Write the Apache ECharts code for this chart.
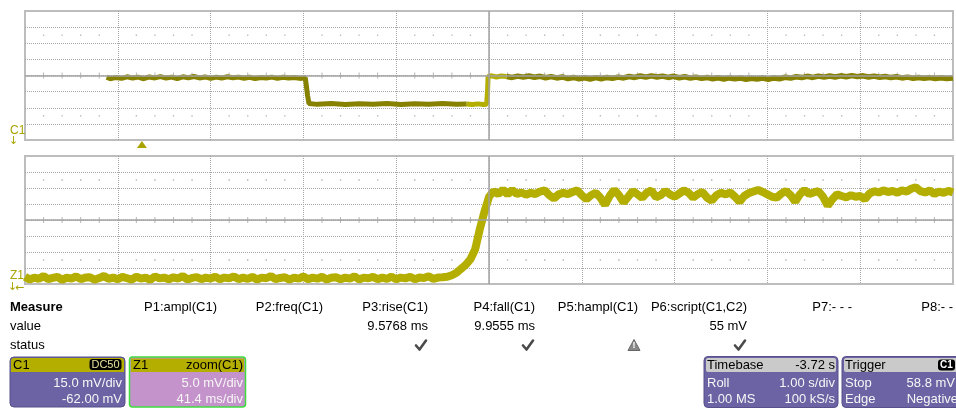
<!DOCTYPE html>
<html><head><meta charset="utf-8">
<script src="https://cdn.jsdelivr.net/npm/echarts@6/dist/echarts.min.js"></script>
<style>html,body{margin:0;padding:0;background:#fff;overflow:hidden}#c{width:956px;height:408px}</style>
</head><body><div id="c"></div>
<script>
// ---------- DATA (x in divisions 0..10, y in divisions -4..4) ----------
const c1Before = [[0.88,-0.10],[0.92,-0.20],[0.98,-0.12],[1.04,-0.18],[1.10,-0.08],[1.16,-0.16],[1.22,-0.10],[1.28,-0.20],[1.34,-0.09],[1.40,-0.15],[1.46,-0.07],[1.52,-0.16],[1.58,-0.10],[1.64,-0.19],[1.70,-0.08],[1.76,-0.14],[1.82,-0.06],[1.88,-0.15],[1.94,-0.09],[2.00,-0.18],[2.06,-0.10],[2.12,-0.16],[2.18,-0.08],[2.24,-0.14],[2.30,-0.10],[2.36,-0.17],[2.42,-0.11],[2.48,-0.19],[2.54,-0.12],[2.60,-0.16],[2.66,-0.10],[2.72,-0.18],[2.78,-0.11],[2.84,-0.16],[2.90,-0.12],[2.96,-0.18],[3.02,-0.14],[3.03,-0.55],[3.045,-1.25],[3.06,-1.74],[3.15,-1.79],[3.30,-1.74],[3.45,-1.80],[3.60,-1.75],[3.75,-1.79],[3.90,-1.74],[4.05,-1.80],[4.20,-1.75],[4.35,-1.79],[4.50,-1.74],[4.65,-1.79],[4.76,-1.77]];
const c1Zoomed = [[4.76,-1.77],[4.82,-1.80],[4.88,-1.76],[4.94,-1.80],[4.975,-1.78],[4.985,-0.9],[4.99,-0.06],[5.03,-0.02],[5.08,-0.09],[5.13,-0.03],[5.19,-0.06]];
const c1After = [[5.19,-0.06],[5.25,-0.12],[5.31,-0.04],[5.37,-0.10],[5.43,-0.03],[5.49,-0.11],[5.55,-0.05],[5.61,-0.14],[5.67,-0.07],[5.73,-0.15],[5.79,-0.09],[5.85,-0.19],[5.91,-0.12],[5.97,-0.20],[6.03,-0.14],[6.09,-0.22],[6.15,-0.13],[6.21,-0.20],[6.27,-0.12],[6.33,-0.18],[6.39,-0.10],[6.45,-0.15],[6.51,-0.06],[6.57,-0.12],[6.63,-0.03],[6.69,-0.10],[6.75,-0.02],[6.81,-0.09],[6.87,-0.04],[6.93,-0.12],[6.99,-0.05],[7.05,-0.14],[7.11,-0.08],[7.17,-0.16],[7.23,-0.10],[7.29,-0.18],[7.35,-0.12],[7.41,-0.20],[7.47,-0.14],[7.53,-0.22],[7.59,-0.15],[7.65,-0.21],[7.71,-0.16],[7.77,-0.23],[7.83,-0.17],[7.89,-0.22],[7.95,-0.16],[8.01,-0.24],[8.07,-0.15],[8.13,-0.20],[8.19,-0.11],[8.25,-0.16],[8.31,-0.08],[8.37,-0.13],[8.43,-0.05],[8.49,-0.12],[8.55,-0.04],[8.61,-0.10],[8.67,-0.03],[8.73,-0.09],[8.79,-0.02],[8.85,-0.08],[8.91,-0.01],[8.97,-0.07],[9.03,-0.02],[9.09,-0.09],[9.15,-0.04],[9.21,-0.11],[9.27,-0.06],[9.33,-0.13],[9.39,-0.08],[9.45,-0.15],[9.51,-0.10],[9.57,-0.17],[9.63,-0.12],[9.69,-0.18],[9.75,-0.13],[9.81,-0.19],[9.87,-0.14],[9.93,-0.18],[10.0,-0.15]];

const z1Start = 0, z1Step = 0.05;   // sample clock of the zoom trace (divisions)
const z1Volts = [
-3.55,-3.72,-3.60,-3.68,-3.50,-3.70,-3.62,-3.55,-3.74,-3.60,
-3.66,-3.52,-3.70,-3.60,-3.58,-3.73,-3.63,-3.50,-3.68,-3.60,
-3.70,-3.56,-3.64,-3.72,-3.55,-3.66,-3.60,-3.74,-3.52,-3.65,
-3.60,-3.70,-3.58,-3.66,-3.50,-3.72,-3.62,-3.57,-3.70,-3.60,
-3.66,-3.54,-3.71,-3.60,-3.65,-3.52,-3.70,-3.60,-3.68,-3.55,
-3.72,-3.60,-3.64,-3.50,-3.70,-3.62,-3.58,-3.73,-3.60,-3.66,
-3.53,-3.70,-3.60,-3.67,-3.55,-3.72,-3.61,-3.58,-3.70,-3.60,
-3.66,-3.52,-3.72,-3.60,-3.64,-3.56,-3.70,-3.60,-3.68,-3.54,
-3.71,-3.60,-3.65,-3.55,-3.70,-3.60,-3.62,-3.52,-3.68,-3.60,
-3.58,-3.55,-3.45,-3.30,-3.05,-2.80,-2.45,-1.85,-0.60,0.50,
1.45,1.80,1.62,1.90,1.60,1.88,1.62,1.72,1.58,1.70,
1.62,1.78,1.85,1.55,1.35,1.60,1.70,1.62,1.75,1.85,
1.55,1.30,1.55,1.70,1.40,0.95,1.50,1.88,1.55,1.10,
1.45,1.82,1.60,1.38,1.70,1.85,1.42,1.55,1.82,1.60,
1.45,1.65,1.85,1.70,1.40,1.62,1.75,1.40,1.20,1.55,
1.70,1.60,1.72,1.45,1.15,1.50,1.68,1.78,1.88,1.75,
1.60,1.45,1.40,1.65,1.82,1.55,1.15,1.60,1.88,1.62,
1.72,1.80,1.45,0.90,1.30,1.60,1.50,1.42,1.55,1.45,
1.50,1.30,1.65,1.80,1.72,1.85,1.75,1.82,1.70,1.86,
1.78,1.95,2.05,1.80,1.72,1.85,1.62,1.78,1.70,1.82,
1.72];
const triggerMarkerDiv = 1.26;

const measureHeaders = ['P1:ampl(C1)','P2:freq(C1)','P3:rise(C1)','P4:fall(C1)','P5:hampl(C1)','P6:script(C1,C2)','P7:- - -','P8:- - -'];
const measureValues  = ['','','9.5768 ms','9.9555 ms','','55 mV','',''];
const measureStatus  = ['','','ok','ok','warn','ok','',''];
const rowLabels = ['Measure','value','status'];

// ---------- LAYOUT ----------
const colRight = [217,323,428,535,638,747,852,961];
const FONT = '"Liberation Sans", Arial, sans-serif';
const gridLine = '#a8a8a8', frameCol = '#bdbdbd', centerCol = '#a2a2a2';
const olive = '#878100', bright = '#b3ae00';

function subPositions(){ const a=[]; for(let i=1;i<50;i++){ if(i%5) a.push(i/5); } return a; }
const subs = subPositions();

function axisPair(gi){
  return {
    x:{type:'value',gridIndex:gi,min:0,max:10,interval:1,axisLine:{show:false},axisTick:{show:false},axisLabel:{show:false},
       splitLine:{show:true,showMinLine:false,showMaxLine:false,lineStyle:{color:gridLine,type:[1,1],width:1}}},
    y:{type:'value',gridIndex:gi,min:-4,max:4,interval:1,axisLine:{show:false},axisTick:{show:false},axisLabel:{show:false},
       splitLine:{show:true,showMinLine:false,showMaxLine:false,lineStyle:{color:gridLine,type:[1,1],width:1}}}
  };
}
const a0 = axisPair(0), a1 = axisPair(1);

function decoSeries(gi){
  return [
    {type:'scatter',xAxisIndex:gi,yAxisIndex:gi,silent:true,z:1,symbol:'rect',symbolSize:[1,6],
     itemStyle:{color:centerCol},data:subs.map(x=>[x,0]),
     markLine:{silent:true,symbol:'none',label:{show:false},lineStyle:{color:centerCol,type:'solid',width:1.5},
       data:[{yAxis:0},{xAxis:5}]}},
    {type:'scatter',xAxisIndex:gi,yAxisIndex:gi,silent:true,z:1,symbol:'rect',symbolSize:[1.3,1.3],
     itemStyle:{color:'#999'},data:subs.flatMap(x=>[[x,2.5],[x,-2.5]])}
  ];
}

const z1Data = z1Volts.map((v,i)=>[z1Start+i*z1Step, v]);

const chart = echarts.init(document.getElementById('c'),null,{renderer:'canvas'});
const option = {
  animation:false,
  backgroundColor:'#fff',
  grid:[
    {left:25,top:11,width:928,height:129,show:true,borderColor:frameCol,borderWidth:2,backgroundColor:'transparent'},
    {left:25,top:156,width:928,height:128,show:true,borderColor:frameCol,borderWidth:2,backgroundColor:'transparent'}
  ],
  xAxis:[a0.x,a1.x],
  yAxis:[a0.y,a1.y],
  series:[
    ...decoSeries(0),...decoSeries(1),
    {type:'line',xAxisIndex:0,yAxisIndex:0,data:c1Before,showSymbol:false,z:3,lineStyle:{color:olive,width:5},itemStyle:{color:olive}},
    {type:'line',xAxisIndex:0,yAxisIndex:0,data:c1After,showSymbol:false,z:3,lineStyle:{color:olive,width:5.5},itemStyle:{color:olive}},
    {type:'line',xAxisIndex:0,yAxisIndex:0,data:c1Zoomed,showSymbol:false,z:4,lineStyle:{color:bright,width:5},itemStyle:{color:bright}},
    {type:'line',xAxisIndex:1,yAxisIndex:1,data:z1Data,showSymbol:false,z:3,clip:true,lineStyle:{color:bright,width:8,join:'bevel'},itemStyle:{color:bright}}
  ]
};
chart.setOption(option);

// ---------- TEXT & PANELS ----------
function txt(x,y,text,opt){
  opt=opt||{};
  return {type:'text',x:x,y:y,silent:true,z:opt.z||10,style:{text:text,fill:opt.fill||'#000',
    font:(opt.weight||'normal')+' '+(opt.size||13)+'px '+(opt.family||FONT),
    textAlign:opt.align||'left',textVerticalAlign:'middle'}};
}
function rect(x,y,w,h,fill,opt){
  opt=opt||{};
  return {type:'rect',silent:true,z:opt.z||5,shape:{x:x,y:y,width:w,height:h,r:opt.r||0},
    style:{fill:fill,stroke:opt.stroke||null,lineWidth:opt.lw||0}};
}
const G = [];
// channel labels
const lab = '#a9a400';
G.push(txt(10,131,'C1',{fill:lab,size:12}));
G.push(txt(9,141,'↓',{fill:lab,size:11,family:'"DejaVu Sans"'}));
G.push(txt(10,276,'Z1',{fill:lab,size:12}));
G.push(txt(8,287,'↓',{fill:lab,size:11,family:'"DejaVu Sans"'}));
G.push(txt(15,288,'←',{fill:lab,size:11,family:'"DejaVu Sans"'}));
// trigger marker
const tx = chart.convertToPixel({xAxisIndex:0},triggerMarkerDiv);
G.push({type:'polygon',silent:true,z:6,shape:{points:[[tx-5,148],[tx+5,148],[tx,141]]},style:{fill:'#a9a400'}});

// measure table
const ry=[307.5,326.5,345.5];
G.push(txt(10,ry[0],rowLabels[0],{weight:'bold'}));
G.push(txt(10,ry[1],rowLabels[1]));
G.push(txt(10,ry[2],rowLabels[2]));
measureHeaders.forEach((h,i)=>{
  G.push(txt(colRight[i],ry[0],h,{align:'right'}));
  if(measureValues[i]) G.push(txt(colRight[i],ry[1],measureValues[i],{align:'right'}));
  if(measureStatus[i]==='ok'){
    const cx=colRight[i]-7, cy=ry[2];
    G.push({type:'polyline',silent:true,z:9,shape:{points:[[cx-5,cy],[cx-1.5,cy+4],[cx+5,cy-5]]},
      style:{stroke:'#4a4a4a',lineWidth:2.6,fill:null,lineCap:'round',lineJoin:'round'}});
  }
  if(measureStatus[i]==='warn'){
    const cx=colRight[i]-4;
    G.push({type:'polygon',silent:true,z:9,shape:{points:[[cx-6,ry[2]+5],[cx+6,ry[2]+5],[cx,ry[2]-6]]},style:{fill:'#8a8a8a',stroke:'#666',lineWidth:1,lineJoin:'round'}});
    G.push(txt(cx,ry[2]+0.5,'!',{align:'center',fill:'#fff',size:9,weight:'bold'}));
  }
});

// boxes
const purple='#6b63a3', pink='#c593cb', white='#f6f6f6', hdrGray='#cacaca';
// C1
G.push(rect(10,357,115,50,purple,{r:4,stroke:'#57508c',lw:1}));
G.push(rect(11,358,113,14,bright,{r:[3,3,0,0],z:6}));
G.push(txt(13,365,'C1',{z:11}));
G.push(rect(89.5,359,32,11,'#000',{r:3,z:7}));
G.push(txt(105.5,364.7,'DC50',{align:'center',fill:'#e6e29a',size:11,z:11}));
G.push(txt(122,383.5,'15.0 mV/div',{align:'right',fill:white}));
G.push(txt(122,399,'-62.00 mV',{align:'right',fill:white}));
// Z1
G.push(rect(129.5,357,116,50,pink,{r:3,stroke:'#3fdc3f',lw:1.5}));
G.push(rect(131,358.5,113,13.5,bright,{z:6}));
G.push(txt(133,365,'Z1',{z:11}));
G.push(txt(243,365,'zoom(C1)',{align:'right',z:11}));
G.push(txt(243,383.5,'5.0 mV/div',{align:'right',fill:white}));
G.push(txt(243,399,'41.4 ms/div',{align:'right',fill:white}));
// Timebase
G.push(rect(704,356.5,134,51,purple,{r:4,stroke:'#57508c',lw:1}));
G.push(rect(706,358,130,14,hdrGray,{r:2,z:6}));
G.push(txt(707,365,'Timebase',{z:11}));
G.push(txt(835,365,'-3.72 s',{align:'right',z:11}));
G.push(txt(707,383.5,'Roll',{fill:white}));
G.push(txt(835,383.5,'1.00 s/div',{align:'right',fill:white}));
G.push(txt(707,399,'1.00 MS',{fill:white}));
G.push(txt(835,399,'100 kS/s',{align:'right',fill:white}));
// Trigger
G.push(rect(842,356.5,122,51,purple,{r:4,stroke:'#57508c',lw:1}));
G.push(rect(844,358,118,14,hdrGray,{r:2,z:6}));
G.push(txt(845,365,'Trigger',{z:11}));
G.push(rect(938,359.5,17,11,'#000',{r:3,z:7}));
G.push(txt(946.5,365,'C1',{align:'center',fill:'#fff',size:10,weight:'bold',z:11}));
G.push(txt(845,383.5,'Stop',{fill:white}));
G.push(txt(955,383.5,'58.8 mV',{align:'right',fill:white}));
G.push(txt(845,399,'Edge',{fill:white}));
G.push(txt(958,399,'Negative',{align:'right',fill:white}));

chart.setOption({graphic:G});
</script></body></html>
